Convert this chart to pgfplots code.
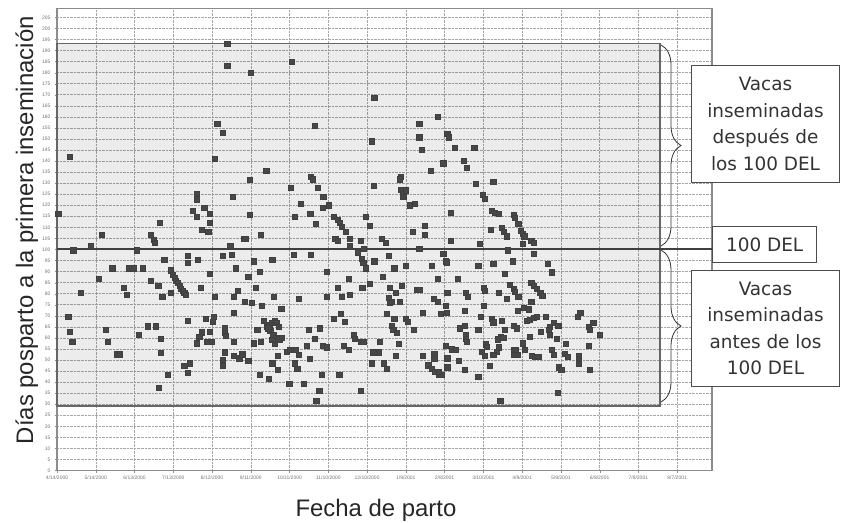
\documentclass[border=0pt]{standalone}
\usepackage{fontspec}
\setmainfont{Liberation Sans}
\newfontfamily\annfont{DejaVu Sans}
\usepackage{pgfplots}
\pgfplotsset{compat=1.18}
\usetikzlibrary{decorations.pathreplacing}
\begin{document}
\begin{tikzpicture}
\begin{axis}[
  at={(0,0)}, anchor=south west,
  scale only axis, width=655bp, height=462.2bp,
  xmin=0, xmax=507, ymin=0, ymax=209.1,
  xtick={0,30,...,480},
  xticklabels={4/14/2000,5/14/2000,6/13/2000,7/13/2000,8/12/2000,9/11/2000,10/11/2000,11/10/2000,12/10/2000,1/9/2001,2/8/2001,3/10/2001,4/9/2001,5/9/2001,6/8/2001,7/8/2001,8/7/2001},
  ytick={0,5,...,205},
  /pgf/number format/assume math mode=true,
  ticklabel style={font=\fontsize{5}{6}\selectfont, text=black!55},
  yticklabel style={xshift=-1bp},
  tick style={draw=black!45},
  major tick length=2bp,
  tick align=outside,
  xtick pos=bottom, ytick pos=left,
  grid=major,
  major grid style={densely dotted, draw=black!35, line width=0.5pt},
  axis line style={draw=black!45, line width=1.3pt},
  xlabel={Fecha de parto},
  ylabel={Días posparto a la primera inseminación},
  label style={font=\fontsize{24}{28}\selectfont, text=black!85},
  xlabel style={at={(axis description cs:0.487,-0.1)}, anchor=base},
  ylabel style={at={(axis description cs:-0.0366,0.52)}, anchor=base},
  clip=false,
]
\fill[black, fill opacity=0.075] (axis cs:0,29.2) rectangle (axis cs:466.8,193);
\draw[black!60, line width=1.2pt] (axis cs:0,100) rectangle (axis cs:466.8,193);
\draw[black!60, line width=1.2pt] (axis cs:0,29.2) rectangle (axis cs:466.8,100);
\draw[black!75, line width=2pt] (axis cs:0,100) -- (axis cs:507,100);
\addplot[only marks, mark=square*, mark size=2.6bp, draw=black!75, fill=black!72] coordinates {
(131.8,193.2) (131.8,183) (124,156.8) (128,152.7) (9.8,141.8) (122,141) (108,125) (108,122.7) (136,123.8) (114,119)
(105,117.7) (108,115) (118,116) (1,116) (118,112) (79.5,112) (112,108.8) (117,107.9) (34.6,106.5) (72.5,106.8)
(75,104.5) (75.5,103) (144.7,104.9) (26,101.5) (134,101.8) (12.6,99.7) (62,99.7)
(101,97) (101,94) (83,95.5) (109,95.5) (128,97) (135,97.7) (42.8,91.5) (55.7,91.5) (59.6,91.5) (66.6,91.5)
(88,90.6) (89.3,88.6) (90.8,87.4) (92,86) (93.4,84.9) (94.7,83.6) (96,82.4) (97.3,81.4) (98.5,80.3) (99.6,79.5)
(118,88.9) (138.6,91.5) (32,86.7) (72.8,85.9) (78.4,83.6) (51.6,82.6) (54,79.5) (18.6,80.6) (81.5,78.5) (87.7,80.6)
(111,82.6) (122,78.5) (140,81.5) (136.5,78.5) (145,76.4) (8.7,69.4) (101,67.6) (115,68.5) (121,69.4) (120.5,67.4)
(136.5,71.5) (10,62.7) (37.7,63.6) (70.2,65.3) (76.4,65.3) (129.5,64.4) (130,62.4) (130.8,61) (112,62.6) (110,60.6)
(108,57.6) (118,62.7) (11.8,58.3) (39,58.3) (63,61.4) (80.5,59.5) (116,58.3) (120,58.3) (136.5,58.3) (46,52.6)
(48.8,52.6) (80.5,53.3) (129.5,53.5) (136.5,51.8) (141,50.8) (143.7,52.6) (128,50.3) (128,47.3) (98.5,47.3) (103,48.5)
(101,44.4) (85.7,43.2) (78.7,37.6)
(181.7,185.1) (150,180) (245.6,168.8) (199.7,155.9) (280.4,156.8) (280.4,150.8) (282.3,145) (243.3,149) (162,135.6) (289.5,135.6)
(149,131.7) (196.6,133) (197.9,131.8) (266,133) (265,131.8) (245.4,128.8) (180.6,127.9) (201.5,127.9) (266,127) (267.6,125.8)
(270,126.8) (268,123.8) (206,124) (188.9,120.8) (205.6,118.8) (210,120) (273,120) (276.6,120.6) (149,115.8) (184,115)
(196,116) (200,111.8) (214.4,115) (217.5,113.6) (219,112.1) (220.6,110.3) (223.7,107.9) (226.6,104.9) (238.7,115) (242.3,110.9)
(284.9,110.9) (284.9,106.5) (275.3,107.9) (145.7,104.9) (157.7,106.5) (215.4,104.9) (217,103.8) (235.3,103.8) (251.6,104.9) (254.7,102.9)
(226.8,101.5) (232.5,98.8) (237.6,100.3) (280.4,100.3) (183,97.7) (196.6,97.7)
(235.8,95.8) (237,94) (238.7,91.5) (152,94.7) (166.6,95.5) (256.5,97) (245.6,94.7) (261,91.5) (270,92.7) (157,89.9)
(208.5,89.9) (148,87.6) (251.8,87.6) (225.5,86.7) (242.3,84.5) (154,82.6) (217,82.6) (236.3,82.6) (257.7,82.6) (262.4,80.6)
(266.8,83.6) (278.4,81.8) (280.4,81.8) (145.5,76.5) (150.7,75.8) (168,78.5) (186.8,77.6) (208.5,78.5) (220.4,78.5) (226.8,79.5)
(256.5,78) (257.8,75.8) (259,76.5) (265.5,76.5) (158.4,74.7) (173.6,73.3) (283,71.5) (255.2,70.8) (214.4,68.5) (219.8,70.9)
(222.9,67.4) (261,68.5) (270,68.5) (271.5,67.4) (159.7,67.6) (162.3,64.9) (164.3,65.9) (166.2,67) (168.2,67.9) (170,66.7)
(171.3,64.9) (165,63.3) (167.4,61.4) (169.5,59.9) (172,59.4) (174,59.9) (168.7,57.6) (155,63.6) (163.5,64.4) (166.6,59.1)
(259,65.5) (260.3,63.6) (263,62.4) (275.8,63.6) (194.6,63.6) (203.6,64.4) (199.7,59.5) (229.4,61.4) (230.7,59.5) (235,58.3)
(237,58.3) (249.5,58.3) (152.5,57.6) (157.7,58.3) (193.3,56.4) (205.7,56.4) (208.8,55.8) (264.2,57.3) (222,56.4) (225.5,54.5)
(177.8,53.8) (180.4,54.5) (183,54.5) (185,54.5) (187,52.3) (244.8,53.5) (248.7,53.5) (143,52.6) (170.8,51.8) (262.4,51.8)
(283,51.8) (148,49.7) (195.8,50.5) (166.6,48.5) (170.8,45.5) (184.2,48.5) (186,46.2) (243.6,48.5) (253,48.5) (255.2,46.2)
(287.4,47.3) (156.6,43.2) (164,41.7) (204.6,43.2) (218.5,43.2) (179.8,39.4) (190.7,39.4) (203,36) (235.3,36) (200.7,31.4)
(294.4,160.1) (302,152.3) (303.4,150.8) (308,145.9) (323,145.9) (299,139) (314.5,140) (317,137) (324,129.9) (337.7,130.8)
(329.2,124.7) (331.3,123) (336.5,117.7) (338.5,116.7) (341.6,116) (305,116.7) (353.2,115.6) (354.5,114.4) (357,111.8) (344.2,109.9)
(346,108) (348,106) (336,108.8) (359.2,108.6) (360.2,107.1) (361.7,106) (367,104) (368.7,103) (305,103.8) (360.2,102.7)
(327.4,102.7) (299,98.2) (349,99.7) (368.7,98.2)
(301,94.7) (301.7,94.2) (290,92.7) (326,92.7) (337.7,93.6) (353,94.7) (380,93.6) (383,89.7) (346.3,88.9) (294.4,86.7)
(310,86.7) (367,84.9) (368.7,83.6) (371.3,82.1) (374,80.3) (375.6,79.1) (350.7,84.1) (353.2,82.1) (354,81) (330,82.6)
(331,81.5) (302,80.6) (316.6,80.6) (318,78.5) (342,80.6) (357,78.8) (348,77.6) (291.3,77.6) (294.4,76.5) (301,74.7)
(330,74.7) (367,76.5) (356.6,72.4) (361,73.5) (365,73) (315.3,72.4) (297.3,70.9) (301.7,71.5) (405,71.5) (403,69.4)
(378.5,69.4) (328.2,69.4) (336.5,68.6) (337.7,67.1) (344.2,67.7) (363.6,67.7) (366,68.2) (368.7,69) (371.3,69.4) (315.8,65.5)
(312,64.4) (384.2,67) (388,65.5) (381.6,64.9) (353.2,65.5) (355.8,64.4) (411.3,65.2) (412.6,63.6) (415,66.7) (346.3,63.6)
(326,63.6) (374.7,62.9) (380.3,63.6) (381.6,61.4) (316.4,61.4) (316.4,59.5) (317,58.3) (343.7,60.6) (341,59.4) (345.4,60.1)
(366,60.6) (420,61.4) (386.8,59.5) (332,57.1) (332.6,56) (360.5,57.6) (301,56.4) (305.5,54.9) (308.6,54.5) (341.6,55.8)
(340.4,53.8) (353.2,54.5) (355,54.5) (353.2,52.3) (356.6,52.3) (362.3,54.5) (394,57.4) (411.3,56.4) (383,54.5) (384.2,52.3)
(392.7,52.7) (395.3,51.5) (328.7,53.8) (331.3,51.8) (337.7,52.3) (367.4,51.8) (370,51.5) (372.5,51.5) (404,51.8) (404,50)
(404,48.2) (292,53) (292,50.5) (287.4,47.7) (290,46.2) (292.6,44.7) (295.2,43.2) (297.8,43.2) (295.2,44.7) (302,50.8)
(302,46.7) (310.7,49.7) (315.3,45.5) (335.2,47.3) (388.6,46.7) (390.2,45.5) (412.6,45.5) (326,42.4) (387.6,35.1) (343,31.4)
};
\end{axis}
% braces
\draw[black!80, line width=0.8pt, decorate, decoration={brace, amplitude=20bp}] (604bp,425.5bp) -- (604bp,224.5bp);
\draw[black!80, line width=0.8pt, decorate, decoration={brace, amplitude=20bp}] (604bp,220.5bp) -- (604bp,68.5bp);
% annotation boxes
\node[draw=black!70, line width=0.7pt, fill=white, minimum width=147.6bp, minimum height=117.7bp, inner sep=0pt, align=center,
      font=\annfont\fontsize{18.5}{26.5}\selectfont, text=black!80] at (708.5bp,346.5bp) {Vacas\\inseminadas\\después de\\los 100 DEL};
\node[draw=black!70, line width=0.7pt, fill=white, minimum width=104bp, minimum height=36.7bp, inner sep=0pt,
      font=\annfont\fontsize{18.5}{26.5}\selectfont, text=black!80] at (707.7bp,226.2bp) {100 DEL};
\node[draw=black!70, line width=0.7pt, fill=white, minimum width=147.6bp, minimum height=116.7bp, inner sep=0pt, align=center,
      font=\annfont\fontsize{18.5}{26.5}\selectfont, text=black!80] at (708.5bp,142.2bp) {Vacas\\inseminadas\\antes de los\\100 DEL};
\pgfresetboundingbox
\path[use as bounding box] (-57bp,-52.5bp) rectangle (786bp,470.5bp);
\end{tikzpicture}
\end{document}
